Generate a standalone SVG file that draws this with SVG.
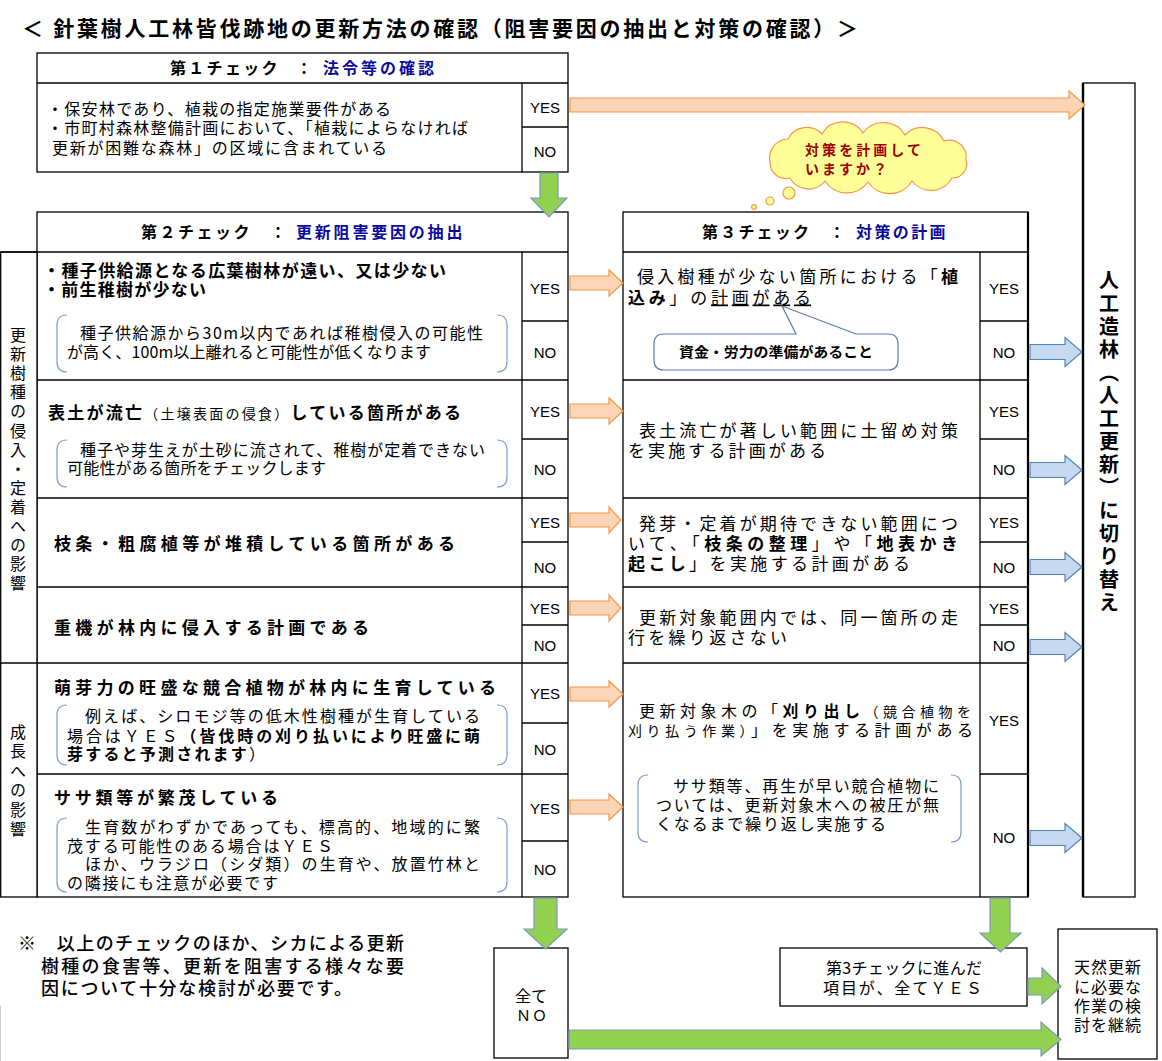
<svg xmlns="http://www.w3.org/2000/svg" width="1162" height="1061" viewBox="0 0 1162 1061">
<style>
text{font-family:"Noto Sans CJK JP","Noto Sans CJK SC",sans-serif;fill:#000}
.b{font-weight:bold}
.nv{fill:#0a0aa0}
.box{fill:#fff;stroke:#000;stroke-width:1.3}
.ln{stroke:#000;stroke-width:1.3;fill:none}
.yn{font-family:"Liberation Sans",Arial,sans-serif;font-size:15px;text-anchor:middle}
.brk{fill:none;stroke:#7f9fcc;stroke-width:1.2}
.oa{fill:#fbd5b5;stroke:#f79646;stroke-width:1.2}
.ba{fill:#c6d9f1;stroke:#4f81bd;stroke-width:1.2}
.ga{fill:#92d050;stroke:#7d97bf;stroke-width:1.2}
.f14{font-size:14px}.f15{font-size:15px}.f16{font-size:16px}.f17{font-size:17px}.f18{font-size:18px}
.vt{writing-mode:vertical-rl}
.cl{fill:#ffff99;stroke:#f79646;stroke-width:1.2}
.ct{font-weight:bold;font-size:14px;fill:#a00000}
</style>

<g id="title">
<text x="22" y="36" class="b" font-size="21" textLength="836" lengthAdjust="spacing">＜ 針葉樹人工林皆伐跡地の更新方法の確認（阻害要因の抽出と対策の確認）＞</text>
</g>

<g id="check1">
<rect class="box" x="37" y="53" width="531" height="119"/>
<line class="ln" x1="37" y1="83" x2="568" y2="83"/>
<line class="ln" x1="522" y1="83" x2="522" y2="172"/>
<line class="ln" x1="522" y1="127" x2="568" y2="127"/>
<text y="74" class="b f16"><tspan x="170" letter-spacing="2.3">第１チェック</tspan><tspan x="296">：</tspan><tspan x="323" class="nv" letter-spacing="3">法令等の確認</tspan></text>
<text x="47" y="115" class="f16" textLength="344" lengthAdjust="spacing">・保安林であり、植栽の指定施業要件がある</text>
<text x="47" y="134" class="f16" textLength="421" lengthAdjust="spacing">・市町村森林整備計画において、「植栽によらなければ</text>
<text x="52" y="154" class="f16" textLength="335" lengthAdjust="spacing">更新が困難な森林」の区域に含まれている</text>
<text class="yn" x="545" y="112.5">YES</text>
<text class="yn" x="545" y="156.5">NO</text>
</g>

<g id="check2">
<rect class="box" x="37" y="212" width="531" height="685"/>
<rect class="box" x="0.7" y="252" width="36.3" height="645"/>
<line class="ln" x1="0" y1="252" x2="568" y2="252"/>
<line class="ln" x1="0" y1="663" x2="568" y2="663"/>
<line class="ln" x1="37" y1="380" x2="568" y2="380"/>
<line class="ln" x1="37" y1="498" x2="568" y2="498"/>
<line class="ln" x1="37" y1="587" x2="568" y2="587"/>
<line class="ln" x1="37" y1="774" x2="568" y2="774"/>
<line class="ln" x1="522" y1="252" x2="522" y2="897"/>
<line class="ln" x1="522" y1="321" x2="568" y2="321"/>
<line class="ln" x1="522" y1="439" x2="568" y2="439"/>
<line class="ln" x1="522" y1="542" x2="568" y2="542"/>
<line class="ln" x1="522" y1="625" x2="568" y2="625"/>
<line class="ln" x1="522" y1="723" x2="568" y2="723"/>
<line class="ln" x1="522" y1="841" x2="568" y2="841"/>
<text y="238" class="b f16"><tspan x="141" letter-spacing="2.5">第２チェック</tspan><tspan x="270">：</tspan><tspan x="296" class="nv" letter-spacing="2.8">更新阻害要因の抽出</tspan></text>
<text x="18" y="327" class="f16 vt" letter-spacing="3.1">更新樹種の侵入・定着への影響</text>
<text x="18" y="724" class="f16 vt" letter-spacing="3.4">成長への影響</text>

<text x="43" y="276.5" class="b f17" textLength="403" lengthAdjust="spacing">・種子供給源となる広葉樹林が遠い、又は少ない</text>
<text x="43" y="295.5" class="b f17" textLength="163" lengthAdjust="spacing">・前生稚樹が少ない</text>
<path class="brk" d="M67,315 Q57,315 57,325 L57,362 Q57,372 67,372 M497,315 Q507,315 507,325 L507,362 Q507,372 497,372"/>
<text x="80" y="339" class="f16" textLength="403" lengthAdjust="spacing">種子供給源から30m以内であれば稚樹侵入の可能性</text>
<text x="67" y="358" class="f16" textLength="364" lengthAdjust="spacing">が高く、100m以上離れると可能性が低くなります</text>

<text x="48" y="418.5" class="b f17" textLength="413" lengthAdjust="spacing">表土が流亡<tspan font-weight="normal" font-size="14">（土壌表面の侵食）</tspan>している箇所がある</text>
<path class="brk" d="M67,440 Q57,440 57,450 L57,477 Q57,487 67,487 M497,440 Q507,440 507,450 L507,477 Q507,487 497,487"/>
<text x="80" y="456" class="f16" textLength="405" lengthAdjust="spacing">種子や芽生えが土砂に流されて、稚樹が定着できない</text>
<text x="67" y="474" class="f16" textLength="259" lengthAdjust="spacing">可能性がある箇所をチェックします</text>

<text x="54" y="549.5" class="b f17" textLength="401" lengthAdjust="spacing">枝条・粗腐植等が堆積している箇所がある</text>
<text x="54" y="633.5" class="b f17" textLength="315" lengthAdjust="spacing">重機が林内に侵入する計画である</text>

<text x="54" y="693.5" class="b f17" textLength="442" lengthAdjust="spacing">萌芽力の旺盛な競合植物が林内に生育している</text>
<path class="brk" d="M67,705 Q57,705 57,715 L57,755 Q57,765 67,765 M497,705 Q507,705 507,715 L507,755 Q507,765 497,765"/>
<text x="85" y="722" class="f16" textLength="395" lengthAdjust="spacing">例えば、シロモジ等の低木性樹種が生育している</text>
<text x="67" y="742" class="f16" textLength="413" lengthAdjust="spacing">場合はＹＥＳ<tspan class="b">（皆伐時の刈り払いにより旺盛に萌</tspan></text>
<text x="67" y="760" class="f16" textLength="198" lengthAdjust="spacing"><tspan class="b">芽すると予測されます</tspan>）</text>

<text x="54" y="803.5" class="b f17" textLength="224" lengthAdjust="spacing">ササ類等が繁茂している</text>
<path class="brk" d="M67,818 Q57,818 57,828 L57,882 Q57,892 67,892 M497,818 Q507,818 507,828 L507,882 Q507,892 497,892"/>
<text x="85" y="833" class="f16" textLength="395" lengthAdjust="spacing">生育数がわずかであっても、標高的、地域的に繁</text>
<text x="67" y="852" class="f16" textLength="266" lengthAdjust="spacing">茂する可能性のある場合はＹＥＳ</text>
<text x="85" y="870" class="f16" textLength="395" lengthAdjust="spacing">ほか、ウラジロ（シダ類）の生育や、放置竹林と</text>
<text x="67" y="889" class="f16" textLength="211" lengthAdjust="spacing">の隣接にも注意が必要です</text>

<text class="yn" x="545" y="293.5">YES</text><text class="yn" x="545" y="357.5">NO</text>
<text class="yn" x="545" y="416.5">YES</text><text class="yn" x="545" y="474.5">NO</text>
<text class="yn" x="545" y="527.5">YES</text><text class="yn" x="545" y="572.5">NO</text>
<text class="yn" x="545" y="613.5">YES</text><text class="yn" x="545" y="650.5">NO</text>
<text class="yn" x="545" y="698.5">YES</text><text class="yn" x="545" y="754.5">NO</text>
<text class="yn" x="545" y="813.5">YES</text><text class="yn" x="545" y="874.5">NO</text>
</g>

<g id="check3">
<rect class="box" x="623" y="212" width="405" height="685"/>
<line x1="1028" y1="212" x2="1028" y2="897" stroke="#000" stroke-width="2.2"/>
<line class="ln" x1="623" y1="252" x2="1028" y2="252"/>
<line class="ln" x1="623" y1="380" x2="1028" y2="380"/>
<line class="ln" x1="623" y1="498" x2="1028" y2="498"/>
<line class="ln" x1="623" y1="587" x2="1028" y2="587"/>
<line class="ln" x1="623" y1="663" x2="1028" y2="663"/>
<line class="ln" x1="980" y1="252" x2="980" y2="897"/>
<line class="ln" x1="980" y1="321" x2="1028" y2="321"/>
<line class="ln" x1="980" y1="439" x2="1028" y2="439"/>
<line class="ln" x1="980" y1="542" x2="1028" y2="542"/>
<line class="ln" x1="980" y1="625" x2="1028" y2="625"/>
<line class="ln" x1="980" y1="774" x2="1028" y2="774"/>
<text y="238" class="b f16"><tspan x="702" letter-spacing="2.2">第３チェック</tspan><tspan x="829">：</tspan><tspan x="856" class="nv" letter-spacing="2.4">対策の計画</tspan></text>

<text x="637" y="282.5" class="f17" textLength="321" lengthAdjust="spacing">侵入樹種が少ない箇所における「<tspan class="b">植</tspan></text>
<text x="628" y="303.5" class="f17" textLength="183" lengthAdjust="spacing"><tspan class="b">込み</tspan>」の<tspan text-decoration="underline">計画がある</tspan></text>

<text x="639" y="436.5" class="f17" textLength="319" lengthAdjust="spacing">表土流亡が著しい範囲に土留め対策</text>
<text x="628" y="456.5" class="f17" textLength="198" lengthAdjust="spacing">を実施する計画がある</text>

<text x="639" y="529.5" class="f17" textLength="319" lengthAdjust="spacing">発芽・定着が期待できない範囲につ</text>
<text x="628" y="549.5" class="f17" textLength="330" lengthAdjust="spacing">いて、「<tspan class="b">枝条の整理</tspan>」や「<tspan class="b">地表かき</tspan></text>
<text x="628" y="569.5" class="f17" textLength="282" lengthAdjust="spacing"><tspan class="b">起こし</tspan>」を実施する計画がある</text>

<text x="639" y="623.5" class="f17" textLength="319" lengthAdjust="spacing">更新対象範囲内では、同一箇所の走</text>
<text x="628" y="643.5" class="f17" textLength="159" lengthAdjust="spacing">行を繰り返さない</text>

<text x="639" y="717" class="f16" textLength="332" lengthAdjust="spacing">更新対象木の「<tspan class="b">刈り出し</tspan><tspan font-size="14">（競合植物を</tspan></text>
<text x="628" y="736" class="f16" textLength="345" lengthAdjust="spacing"><tspan font-size="14">刈り払う作業）</tspan>」を実施する計画がある</text>
<path class="brk" d="M648,775 Q638,775 638,785 L638,832 Q638,842 648,842 M951,775 Q961,775 961,785 L961,832 Q961,842 951,842"/>
<text x="673" y="792" class="f16" textLength="266" lengthAdjust="spacing">ササ類等、再生が早い競合植物に</text>
<text x="656" y="811" class="f16" textLength="283" lengthAdjust="spacing">ついては、更新対象木への被圧が無</text>
<text x="656" y="830" class="f16" textLength="230" lengthAdjust="spacing">くなるまで繰り返し実施する</text>

<text class="yn" x="1004" y="293.5">YES</text><text class="yn" x="1004" y="357.5">NO</text>
<text class="yn" x="1004" y="416.5">YES</text><text class="yn" x="1004" y="474.5">NO</text>
<text class="yn" x="1004" y="527.5">YES</text><text class="yn" x="1004" y="572.5">NO</text>
<text class="yn" x="1004" y="613.5">YES</text><text class="yn" x="1004" y="650.5">NO</text>
<text class="yn" x="1004" y="725.5">YES</text><text class="yn" x="1004" y="842.5">NO</text>
</g>

<g id="callout-shikin">
<path d="M664,334 L796,334 L782,306 L856,334 L888,334 Q898,334 898,344 L898,360 Q898,370 888,370 L664,370 Q654,370 654,360 L654,344 Q654,334 664,334 Z" fill="#fff" stroke="#5a7aaa" stroke-width="1.2"/>
<text x="679" y="357" class="b f14" textLength="194" lengthAdjust="spacingAndGlyphs">資金・労力の準備があること</text>
</g>

<g id="cloud">
<path class="cl" d="M770,162 A19,19 0 0 1 788,139 A21,21 0 0 1 822,134 A24,24 0 0 1 863,133 A25,25 0 0 1 905,135 A24,24 0 0 1 944,141 A17,17 0 0 1 966,160 A14,14 0 0 1 952,178 A24,24 0 0 1 912,181 A26,26 0 0 1 868,182 A26,26 0 0 1 825,181 A21,21 0 0 1 790,178 A16,16 0 0 1 770,162 Z"/>
<circle class="cl" cx="789" cy="193" r="6"/>
<circle class="cl" cx="770" cy="201" r="4"/>
<circle class="cl" cx="754" cy="207" r="2.4"/>
<text x="805" y="155" class="ct" textLength="116" lengthAdjust="spacing">対策を計画して</text>
<text x="805" y="174" class="ct" textLength="82" lengthAdjust="spacing">いますか？</text>
</g>

<g id="jinkou">
<rect class="box" x="1083" y="83" width="52" height="814"/>
<line x1="1083" y1="83" x2="1083" y2="897" stroke="#000" stroke-width="2.4"/>
<text x="1109" y="270" class="b vt" font-size="20" letter-spacing="3">人工造林（人工更新）に切り替え</text>
</g>

<g id="note">
<text x="18" y="950" class="f18" font-weight="500" textLength="386" lengthAdjust="spacing">※　以上のチェックのほか、シカによる更新</text>
<text x="41" y="973" class="f18" font-weight="500" textLength="363" lengthAdjust="spacing">樹種の食害等、更新を阻害する様々な要</text>
<text x="41" y="995" class="f18" font-weight="500" textLength="311" lengthAdjust="spacing">因について十分な検討が必要です。</text>
</g>

<g id="all-no">
<rect class="box" x="494" y="948" width="74" height="110"/>
<text x="531" y="1002" class="f16" text-anchor="middle">全て</text>
<text x="532" y="1021" class="f15" text-anchor="middle" letter-spacing="1">ＮＯ</text>
</g>

<g id="all-yes">
<rect class="box" x="780" y="948" width="247" height="58"/>
<text x="826" y="973.5" class="f16" textLength="156" lengthAdjust="spacing">第3チェックに進んだ</text>
<text x="823" y="993.5" class="f16" textLength="159" lengthAdjust="spacing">項目が、全てＹＥＳ</text>
</g>

<g id="tennen">
<rect class="box" x="1058" y="929" width="99" height="130"/>
<text x="1108" y="973" class="f16" text-anchor="middle" letter-spacing="1">天然更新</text>
<text x="1108" y="992.5" class="f16" text-anchor="middle" letter-spacing="1">に必要な</text>
<text x="1108" y="1011.5" class="f16" text-anchor="middle" letter-spacing="1">作業の検</text>
<text x="1108" y="1030.5" class="f16" text-anchor="middle" letter-spacing="1">討を継続</text>
</g>

<g id="connectors">
<path class="oa" d="M570,98 L1069,98 L1069,91 L1085,105 L1069,119 L1069,112 L570,112 Z"/>
<path class="oa" d="M570,276 L609,276 L609,270 L623,283 L609,296 L609,290 L570,290 Z"/>
<path class="oa" d="M570,404 L609,404 L609,398 L623,411 L609,424 L609,418 L570,418 Z"/>
<path class="oa" d="M570,513 L609,513 L609,507 L621,520 L609,533 L609,527 L570,527 Z"/>
<path class="oa" d="M570,601 L609,601 L609,595 L621,608 L609,621 L609,615 L570,615 Z"/>
<path class="oa" d="M570,687 L609,687 L609,681 L623,694 L609,707 L609,701 L570,701 Z"/>
<path class="oa" d="M570,800 L609,800 L609,794 L623,807 L609,820 L609,814 L570,814 Z"/>
<path class="ba" d="M1030,344.5 L1065,344.5 L1065,337.5 L1082,352 L1065,366.5 L1065,359.5 L1030,359.5 Z"/>
<path class="ba" d="M1030,462.5 L1065,462.5 L1065,455.5 L1082,470 L1065,484.5 L1065,477.5 L1030,477.5 Z"/>
<path class="ba" d="M1030,559.5 L1065,559.5 L1065,552.5 L1082,567 L1065,581.5 L1065,574.5 L1030,574.5 Z"/>
<path class="ba" d="M1030,639.5 L1065,639.5 L1065,632.5 L1082,647 L1065,661.5 L1065,654.5 L1030,654.5 Z"/>
<path class="ba" d="M1030,830.5 L1065,830.5 L1065,823.5 L1082,838 L1065,852.5 L1065,845.5 L1030,845.5 Z"/>
<path class="ga" d="M540,173 L558,173 L558,198 L567,198 L549,217 L531,198 L540,198 Z"/>
<path class="ga" d="M534,898 L557,898 L557,929 L567,929 L545.5,949 L524,929 L534,929 Z"/>
<path class="ga" d="M990,898 L1010,898 L1010,933 L1021,933 L1000.5,952 L980,933 L990,933 Z"/>
<path class="ga" d="M1028,978 L1042,978 L1042,968 L1061,986.5 L1042,1004 L1042,995 L1028,995 Z"/>
<path class="ga" d="M569,1030 L1041,1030 L1041,1022 L1061,1039.5 L1041,1056 L1041,1049 L569,1049 Z"/>
</g>
<line x1="0.5" y1="1006" x2="0.5" y2="1061" stroke="#d0d0d0" stroke-width="1"/>
</svg>
